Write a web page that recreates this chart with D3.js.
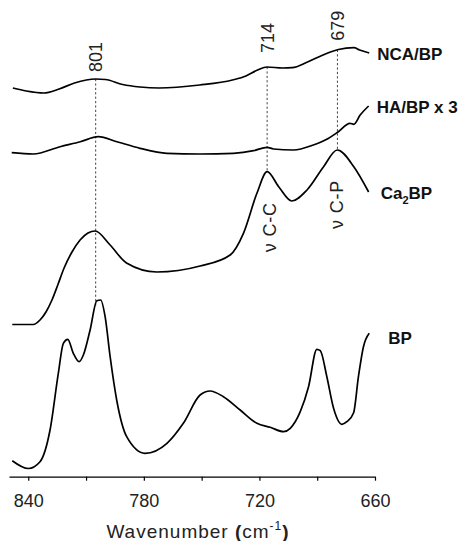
<!DOCTYPE html>
<html>
<head>
<meta charset="utf-8">
<script src="https://cdn.jsdelivr.net/npm/d3@7"></script>
<style>
  body { margin: 0; background: #fff; }
  svg { display: block; font-family: Arial, "Liberation Sans", Helvetica, sans-serif; }
  .spectrum { fill: none; stroke: #000; stroke-width: 1.7; stroke-linejoin: round; }
  .marker { stroke: #444; stroke-width: 1; stroke-dasharray: 2.2,2.2; }
  .axis path, .axis line { stroke: #000; stroke-width: 1.2; }
</style>
</head>
<body>
<div id="vis"></div>
<script>
// spectra, wavenumber (cm-1) and absorbance in arbitrary units (stacked)
const ncaWave = [848, 841, 832, 824, 816, 805, 800, 791, 782, 772, 751, 734, 727, 721, 716, 708, 703, 695, 687, 679, 671, 668, 663];
const ncaAbs  = [388, 385, 383, 387, 393, 397, 396.5, 391.5, 389, 388, 391, 396, 400, 406, 409, 408, 408.3, 414, 421, 426.5, 428.3, 426, 423];

const haWave = [848.6, 837.4, 823.5, 813, 803.6, 794, 782, 768, 751, 733.5, 723, 716, 712.7, 702.3, 692, 685, 679, 673, 671, 667.7, 663.3];
const haAbs  = [323.3, 322, 329.3, 334.3, 339.3, 334.3, 327.7, 322.7, 322, 322.7, 325.3, 328.7, 327, 326, 331, 336.7, 344.3, 352.7, 351.7, 361, 370];

const caWave = [848.3, 837.4, 833.9, 830.8, 827.7, 824.5, 821.4, 817.3, 813.1, 809, 805.3, 797.5, 789, 773.3, 750.8, 735.2, 728.3, 721.3, 716, 710, 703.2, 695.3, 686.7, 679.6, 671, 663.3];
const caAbs  = [151.5, 151.5, 156, 164, 176, 192, 208, 224, 236, 243, 245, 231, 213, 204, 210, 221, 242.7, 282.7, 304.3, 289.3, 275, 286, 309.3, 326, 309.3, 284];

const bpWave = [848.3, 840, 833.9, 828.7, 824.4, 821.8, 819.5, 816.6, 813.6, 811.4, 807.9, 804.4, 802.4, 800.1, 797.5, 794.1, 788.9, 779.4, 768, 759.5, 750.8, 745.6, 738.7, 730, 721.3, 714.4, 707.5, 704, 698.8, 694.5, 690.2, 688.4, 685, 681.5, 677.2, 674.6, 671.1, 668.6, 666, 663];
const bpAbs  = [15.3, 7.5, 14.3, 46, 102.7, 132.7, 136.7, 122.7, 114.3, 121, 146, 175.3, 176, 159.3, 119.3, 76, 39.3, 22.7, 32.7, 52.7, 81, 85, 79.3, 66, 52.7, 48.7, 44.3, 47.7, 64.3, 89.3, 126.7, 125.3, 99.3, 67.7, 51.7, 54.3, 63.3, 99.3, 129.3, 142.7];

const seriesNames = ["NCA/BP", "HA/BP x 3", "Ca2BP", "BP"];

// band markers: where the dotted line sits, its label, and the lowest spectrum it reaches
const markerWave   = [805, 716, 679.5];
const markerLabels = ["801", "714", "679"];
const markerBottom = ["BP", "Ca2BP", "Ca2BP"];

// vibration assignments written under the Ca2BP peaks
const bandWave   = [715, 680];
const bandLabels = ["\u03bd C-C", "\u03bd C-P"];

const tickValues = [840, 810, 780, 750, 720, 690, 660];
const tickLabels = ["840", "", "780", "", "720", "", "660"];

const WIDTH = 463, HEIGHT = 541;
const AXIS_Y = 476.7;

const svg = d3.select("#vis").append("svg")
    .attr("width", WIDTH)
    .attr("height", HEIGHT);

const x = d3.scaleLinear().domain([850, 660]).range([9, 375]);
const y = d3.scaleLinear().domain([0, 476]).range([476, 0]);

const series = [
  { name: seriesNames[0], wave: ncaWave, abs: ncaAbs, dx: 8 },
  { name: seriesNames[1], wave: haWave,  abs: haAbs,  dx: 8 },
  { name: seriesNames[2], wave: caWave,  abs: caAbs,  dx: 12 },
  { name: seriesNames[3], wave: bpWave,  abs: bpAbs,  dx: 19 }
];
series.forEach(s => { s.points = s.wave.map((w, i) => [w, s.abs[i]]); });

// value of a spectrum at a given wavenumber (linear between read points)
function valueAt(s, w) {
  for (let i = 0; i < s.wave.length - 1; i++) {
    const a = s.wave[i], b = s.wave[i + 1];
    if ((w <= a && w >= b)) {
      const t = (a - w) / (a - b);
      return s.abs[i] + t * (s.abs[i + 1] - s.abs[i]);
    }
  }
  return s.abs[s.abs.length - 1];
}
const byName = {};
series.forEach(s => byName[s.name] = s);

// dotted marker lines, from the top spectrum down to the peak below
const markers = markerWave.map((w, i) => ({
  w: w,
  label: markerLabels[i],
  top: valueAt(series[0], w),
  bottom: valueAt(byName[markerBottom[i]], w)
}));

svg.selectAll("line.marker")
    .data(markers)
    .enter()
    .append("line")
      .attr("class", "marker")
      .attr("x1", d => x(d.w))
      .attr("x2", d => x(d.w))
      .attr("y1", d => y(d.top))
      .attr("y2", d => y(d.bottom));

const labelGap = [7, 14, 9];
svg.selectAll("text.mlabel")
    .data(markers)
    .enter()
    .append("text")
      .attr("class", "mlabel")
      .attr("transform", (d, i) => `translate(${x(d.w)},${y(d.top) - labelGap[i]}) rotate(-90)`)
      .attr("dy", "0.36em")
      .attr("font-size", 18)
      .attr("fill", "#222")
      .text(d => d.label);

// spectra
const line = d3.line()
    .x(d => x(d[0]))
    .y(d => y(d[1]))
    .curve(d3.curveMonotoneX);

svg.selectAll("path.spectrum")
    .data(series)
    .enter()
    .append("path")
      .attr("class", "spectrum")
      .attr("d", d => line(d.points));

// series names at the right end of each trace
const names = svg.selectAll("text.sname")
    .data(series)
    .enter()
    .append("text")
      .attr("class", "sname")
      .attr("x", d => x(d.wave[d.wave.length - 1]) + d.dx)
      .attr("y", d => y(d.abs[d.abs.length - 1]) + (d.name === "BP" ? 11 : 7))
      .attr("font-size", 17)
      .attr("font-weight", "bold")
      .attr("fill", "#111");

names.each(function(d) {
  const t = d3.select(this);
  if (d.name === "Ca2BP") {
    t.append("tspan").text("Ca");
    t.append("tspan").attr("font-size", 11).attr("dy", 5).text("2");
    t.append("tspan").attr("dy", -5).text("BP");
  } else {
    t.text(d.name);
  }
});

// band assignments under the Ca2BP peaks
const caSeries = byName["Ca2BP"];
const bandGap = [78, 78];
svg.selectAll("text.band")
    .data(bandWave)
    .enter()
    .append("text")
      .attr("class", "band")
      .attr("transform", (w, i) => `translate(${x(w)},${y(valueAt(caSeries, w)) + bandGap[i]}) rotate(-90)`)
      .attr("dy", "0.36em")
      .attr("font-size", 18)
      .attr("letter-spacing", 0.8)
      .attr("fill", "#222")
      .text((w, i) => bandLabels[i]);

// x axis
const xAxis = d3.axisBottom(x)
    .tickValues(tickValues)
    .tickFormat((d, i) => tickLabels[i])
    .tickSizeInner(4)
    .tickSizeOuter(0)
    .tickPadding(14);

const gx = svg.append("g")
    .attr("class", "axis")
    .attr("transform", `translate(0,${AXIS_Y})`)
    .call(xAxis);
gx.selectAll("text")
    .attr("font-size", 18)
    .attr("font-family", "Arial, 'Liberation Sans', Helvetica, sans-serif")
    .attr("fill", "#222");

const title = svg.append("text")
    .attr("x", 198)
    .attr("y", 538)
    .attr("text-anchor", "middle")
    .attr("font-size", 19)
    .attr("letter-spacing", 1)
    .attr("fill", "#222");
title.append("tspan").text("Wavenumber ");
title.append("tspan").attr("font-weight", "bold").text("(");
title.append("tspan").text("cm");
title.append("tspan").attr("font-size", 12).attr("dy", -8).text("-1");
title.append("tspan").attr("font-weight", "bold").attr("dy", 8).text(")");
</script>
</body>
</html>
